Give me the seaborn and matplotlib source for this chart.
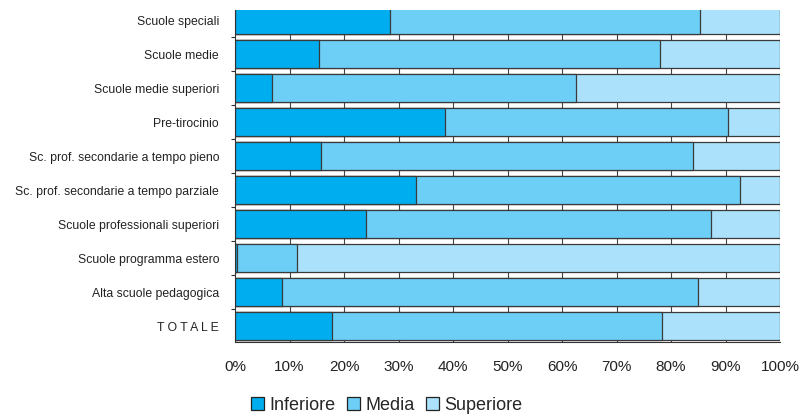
import matplotlib
matplotlib.use("Agg")
import matplotlib.pyplot as plt
import matplotlib.patches as mpatches
import numpy as np
import pandas as pd
import seaborn as sns

categories = [
    "Scuole speciali",
    "Scuole medie",
    "Scuole medie superiori",
    "Pre-tirocinio",
    "Sc. prof. secondarie a tempo pieno",
    "Sc. prof. secondarie a tempo parziale",
    "Scuole professionali superiori",
    "Scuole programma estero",
    "Alta scuole pedagogica",
    "T O T A L E",
]
inferiore = [28.5, 15.5, 6.8, 38.5, 15.7, 33.3, 24.1, 0.3, 8.6, 17.8]
media = [56.8, 62.5, 55.7, 51.9, 68.4, 59.4, 63.3, 11.0, 76.3, 60.5]
superiore = [14.7, 22.0, 37.5, 9.6, 15.9, 7.3, 12.6, 88.7, 15.1, 21.7]

series = ["Inferiore", "Media", "Superiore"]
colors = {"Inferiore": "#00AEEF", "Media": "#6DCFF6", "Superiore": "#ABE1FA"}

df = pd.DataFrame({"cat": categories, "Inferiore": inferiore,
                   "Media": media, "Superiore": superiore})
df["c1"] = df["Inferiore"]
df["c2"] = df["Inferiore"] + df["Media"]
df["c3"] = df["c2"] + df["Superiore"]

sns.set_style("white")
plt.rcParams["font.family"] = ["Liberation Sans", "DejaVu Sans"]

fig = plt.figure(figsize=(8.03, 4.16), dpi=100)
ax = fig.add_axes([235 / 803, 1 - 342 / 416, 545 / 803, 332 / 416])

# vertical grid behind bars
for v in range(10, 101, 10):
    ax.axvline(v, color="#444444", lw=0.8, zorder=0)

edge = dict(edgecolor="#3a3a3a", linewidth=0.9, zorder=2)
# stacked by overlaying cumulative bars
sns.barplot(data=df, y="cat", x="c3", color=colors["Superiore"], orient="h",
            width=0.83, ax=ax, saturation=1, **edge)
sns.barplot(data=df, y="cat", x="c2", color=colors["Media"], orient="h",
            width=0.83, ax=ax, saturation=1, **edge)
sns.barplot(data=df, y="cat", x="c1", color=colors["Inferiore"], orient="h",
            width=0.83, ax=ax, saturation=1, **edge)

ax.set_xlim(0, 100)
ax.set_ylim(9.465, -0.30)
ax.set_xticks(np.arange(0, 101, 10))
ax.set_xticklabels([f"{v}%" for v in range(0, 101, 10)], fontsize=11, color="#222222")
ax.tick_params(axis="x", length=4, width=0.8, color="#333333", pad=9, direction="out")
ax.tick_params(axis="y", length=0, labelsize=8.8, pad=11.5, labelcolor="#222222")
ax.set_yticks(np.arange(0.5, 9.0, 1), minor=True)
ax.tick_params(axis="y", which="minor", length=3, width=0.8, color="#333333", left=True)
ax.set_xlabel("")
ax.set_ylabel("")

for s in ["top", "right"]:
    ax.spines[s].set_visible(False)
for s in ["left", "bottom"]:
    ax.spines[s].set_color("#333333")
    ax.spines[s].set_linewidth(0.8)

handles = [mpatches.Patch(facecolor=colors[s], edgecolor="#222222", linewidth=0.9, label=s)
           for s in series]
fig.legend(handles=handles, loc="center", bbox_to_anchor=(387 / 803, 1 - 405 / 416),
           ncol=3, frameon=False, fontsize=13, handlelength=0.72, handleheight=0.72,
           handletextpad=0.28, columnspacing=0.65, borderaxespad=0)

fig.savefig("out.png", dpi=100)
